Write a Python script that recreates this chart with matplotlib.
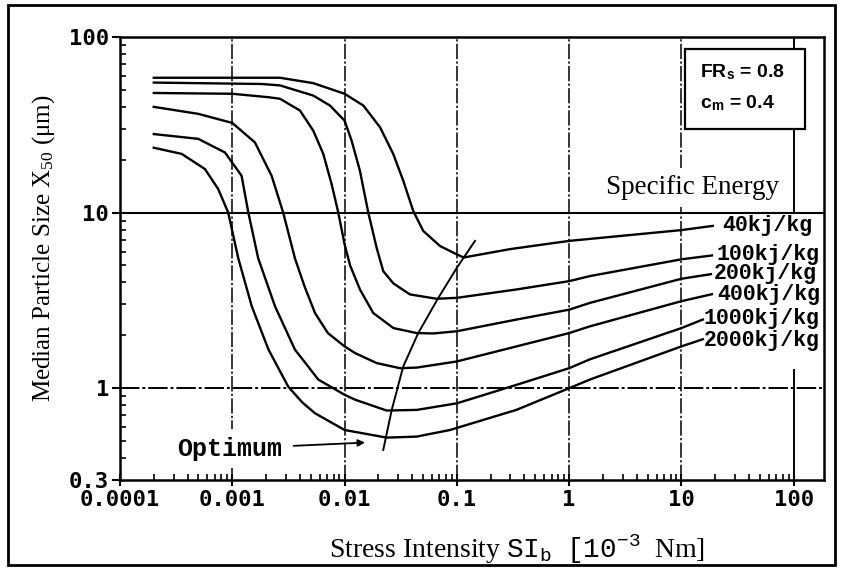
import numpy as np
import matplotlib
matplotlib.use("Agg")
import matplotlib.pyplot as plt
from matplotlib import patches
from matplotlib.ticker import LogLocator, NullFormatter

# ---- data ----
energy_labels = ["40kj/kg", "100kj/kg", "200kj/kg", "400kj/kg", "1000kj/kg", "2000kj/kg"]

x_40 = [2e-4, 0.00266, 0.00526, 0.01, 0.0147, 0.0207, 0.0271, 0.0333, 0.0409, 0.0502, 0.0708, 0.1, 0.115, 0.3, 1.0, 10, 19]
y_40 = [58.6, 58.6, 54.6, 47.5, 40.7, 30.6, 21.6, 15.2, 10.2, 7.86, 6.45, 5.78, 5.55, 6.2, 6.9, 7.95, 8.4]

x_100 = [2e-4, 0.00183, 0.00266, 0.00526, 0.00741, 0.01, 0.01155, 0.0137, 0.01626, 0.0193, 0.0221, 0.0272, 0.0382, 0.066, 0.1, 0.34, 1.0, 1.53, 10, 18.7]
y_100 = [55, 54, 53, 46.4, 40.7, 33.4, 25.7, 17.3, 10, 6.3, 4.64, 3.95, 3.42, 3.23, 3.27, 3.65, 4.07, 4.35, 5.42, 5.7]

x_200 = [2e-4, 0.001, 0.0021, 0.00266, 0.00401, 0.00526, 0.00646, 0.00767, 0.00879, 0.01, 0.0112, 0.0137, 0.018, 0.0272, 0.0438, 0.0617, 0.1, 0.34, 1.0, 1.53, 10, 18.3]
y_200 = [48, 47.5, 45.4, 44.5, 38.1, 29.3, 21.6, 14.5, 10, 6.6, 5.0, 3.65, 2.68, 2.2, 2.06, 2.05, 2.11, 2.46, 2.8, 3.06, 4.2, 4.46]

x_400 = [2e-4, 0.000498, 0.001, 0.00159, 0.00224, 0.00284, 0.00361, 0.0044, 0.00545, 0.0071, 0.01, 0.0124, 0.0193, 0.0311, 0.0438, 0.1, 0.34, 1.0, 1.53, 10, 18.7]
y_400 = [40, 36.5, 32.4, 25.1, 16.2, 10, 5.5, 3.8, 2.68, 2.06, 1.73, 1.585, 1.39, 1.30, 1.31, 1.42, 1.73, 2.06, 2.25, 3.13, 3.43]

x_1000 = [2e-4, 0.000498, 0.00086, 0.00121, 0.00139, 0.0017, 0.0024, 0.00361, 0.00583, 0.01, 0.0124, 0.0237, 0.0438, 0.1, 0.34, 1.0, 1.53, 10, 15.5]
y_1000 = [28, 26.3, 22, 16.2, 10, 5.5, 2.93, 1.66, 1.12, 0.917, 0.86, 0.746, 0.752, 0.82, 1.045, 1.3, 1.46, 2.2, 2.46]

x_2000 = [2e-4, 0.000354, 0.000571, 0.00075, 0.00092, 0.00113, 0.00149, 0.0021, 0.00315, 0.0042, 0.00545, 0.01, 0.0237, 0.0438, 0.0869, 0.34, 1.0, 1.53, 10, 15.5]
y_2000 = [23.4, 21.6, 17.7, 13.6, 10, 5.5, 2.93, 1.66, 1.02, 0.83, 0.72, 0.578, 0.523, 0.53, 0.578, 0.753, 1.0, 1.12, 1.73, 1.90]

x_opt = [0.0221, 0.0263, 0.0333, 0.0453, 0.068, 0.1, 0.145]
y_opt = [0.445, 0.752, 1.33, 2.06, 3.25, 4.85, 6.9]

x_ticks = [1e-4, 1e-3, 1e-2, 1e-1, 1, 10, 100]
x_ticklabels = ["0.0001", "0.001", "0.01", "0.1", "1", "10", "100"]
y_ticks = [0.3, 1, 10, 100]
y_ticklabels = ["0.3", "1", "10", "100"]

curves = [(x_40, y_40), (x_100, y_100), (x_200, y_200),
          (x_400, y_400), (x_1000, y_1000), (x_2000, y_2000)]
# label offsets (points) from curve end
label_off = [(6.5, 0), (3.5, 1), (2, 0.5), (3.5, 0), (0.5, 0.5), (0.5, -1)]

plt.rcParams['mathtext.fontset'] = 'custom'
plt.rcParams['mathtext.rm'] = 'Liberation Serif'
plt.rcParams['mathtext.it'] = 'Liberation Serif:italic'
plt.rcParams['mathtext.tt'] = 'Liberation Mono'
plt.rcParams['mathtext.bf'] = 'Liberation Sans:bold'

fig = plt.figure(figsize=(8.43, 5.70), dpi=100)
ax = fig.add_axes([120/843, 1 - 480/570, 704/843, 443/570])
ax.set_xscale('log')
ax.set_yscale('log')
ax.set_xlim(1e-4, 186)
ax.set_ylim(0.3, 100)

# grid lines
dashdot = (0, (10, 1.5, 1.5, 1.5))
for xv in [1e-3, 1e-2, 1e-1, 1, 10]:
    ax.axvline(xv, color='k', lw=1.1, ls=dashdot, zorder=1)
ax.vlines([100, 100], [0.3, 10], [1.28, 100], colors='k', lw=1.4, zorder=5)
ax.axhline(10, color='k', lw=1.5, zorder=1)
ax.axhline(1, color='k', lw=1.4, ls=dashdot, zorder=1)

# curves
for (xs, ys), lab, off in zip(curves, energy_labels, label_off):
    ax.plot(xs, ys, color='k', lw=1.7, zorder=3, solid_joinstyle='round')
    ax.annotate(lab, xy=(xs[-1], ys[-1]), xytext=off, textcoords='offset points',
                ha='left', va='center', fontfamily='Liberation Mono',
                fontweight='bold', fontsize=15.5, zorder=4)

ax.plot(x_opt, y_opt, color='k', lw=1.4, zorder=3)
ax.annotate("Optimum", xy=(0.0152, 0.49), xytext=(0.00277, 0.452),
            ha='right', va='center', fontfamily='Liberation Mono',
            fontweight='bold', fontsize=18,
            bbox=dict(boxstyle='square,pad=0.3', fc='white', ec='none'),
            arrowprops=dict(arrowstyle='-|>', color='k', lw=1.3,
                            shrinkA=3, shrinkB=0, mutation_scale=10),
            zorder=4)

ax.text(2.13, 12.8, "Specific Energy", ha='left', va='baseline',
        fontfamily='Liberation Serif', fontsize=19.5,
        bbox=dict(boxstyle='square,pad=0.25', fc='white', ec='none'), zorder=4)

# parameter box
ax.add_patch(patches.Rectangle((0.803, 0.792), 0.170, 0.181, transform=ax.transAxes,
                               fc='white', ec='k', lw=1.6, zorder=6))
ax.text(0.824, 0.921, r"FR$_\mathbf{s}$ = 0.8", transform=ax.transAxes,
        ha='left', va='center', fontfamily='Liberation Sans', fontweight='bold',
        fontsize=14, zorder=7)
ax.text(0.824, 0.851, r"c$_\mathbf{m}$ = 0.4", transform=ax.transAxes,
        ha='left', va='center', fontfamily='Liberation Sans', fontweight='bold',
        fontsize=14, zorder=7)

# ticks
ax.set_xticks(x_ticks)
ax.set_xticklabels(x_ticklabels, fontfamily='DejaVu Sans Mono', fontweight='bold', fontsize=16)
ax.set_yticks(y_ticks)
ax.set_yticklabels(y_ticklabels, fontfamily='DejaVu Sans Mono', fontweight='bold', fontsize=16)
ax.xaxis.set_minor_locator(LogLocator(base=10, subs=np.arange(2, 10), numticks=20))
ax.yaxis.set_minor_locator(LogLocator(base=10, subs=np.arange(2, 10), numticks=20))
ax.xaxis.set_minor_formatter(NullFormatter())
ax.yaxis.set_minor_formatter(NullFormatter())
ax.tick_params(axis='x', which='major', direction='inout', length=8, width=1.5, pad=3)
ax.tick_params(axis='y', which='major', direction='out', length=6, width=1.5, pad=2)
ax.tick_params(which='minor', direction='in', length=4, width=1.2)

for sp in ax.spines.values():
    sp.set_linewidth(1.8)

ax.set_ylabel("Median Particle Size X$_{50}$ (μm)", fontfamily='Liberation Serif', fontsize=18)
ax.yaxis.set_label_coords(-0.09, 0.524)
ax.set_xlabel(r"Stress Intensity $\mathtt{SI_b}$  $\mathtt{[10^{-3}}$  Nm]",
              fontfamily='Liberation Serif', fontsize=20)
ax.xaxis.set_label_coords(0.564, -0.12)

fig.patches.append(patches.Rectangle((0.009, 0.009), 0.982, 0.982, transform=fig.transFigure,
                                     fill=False, lw=2, ec='k'))

fig.savefig("out.png", dpi=100)
